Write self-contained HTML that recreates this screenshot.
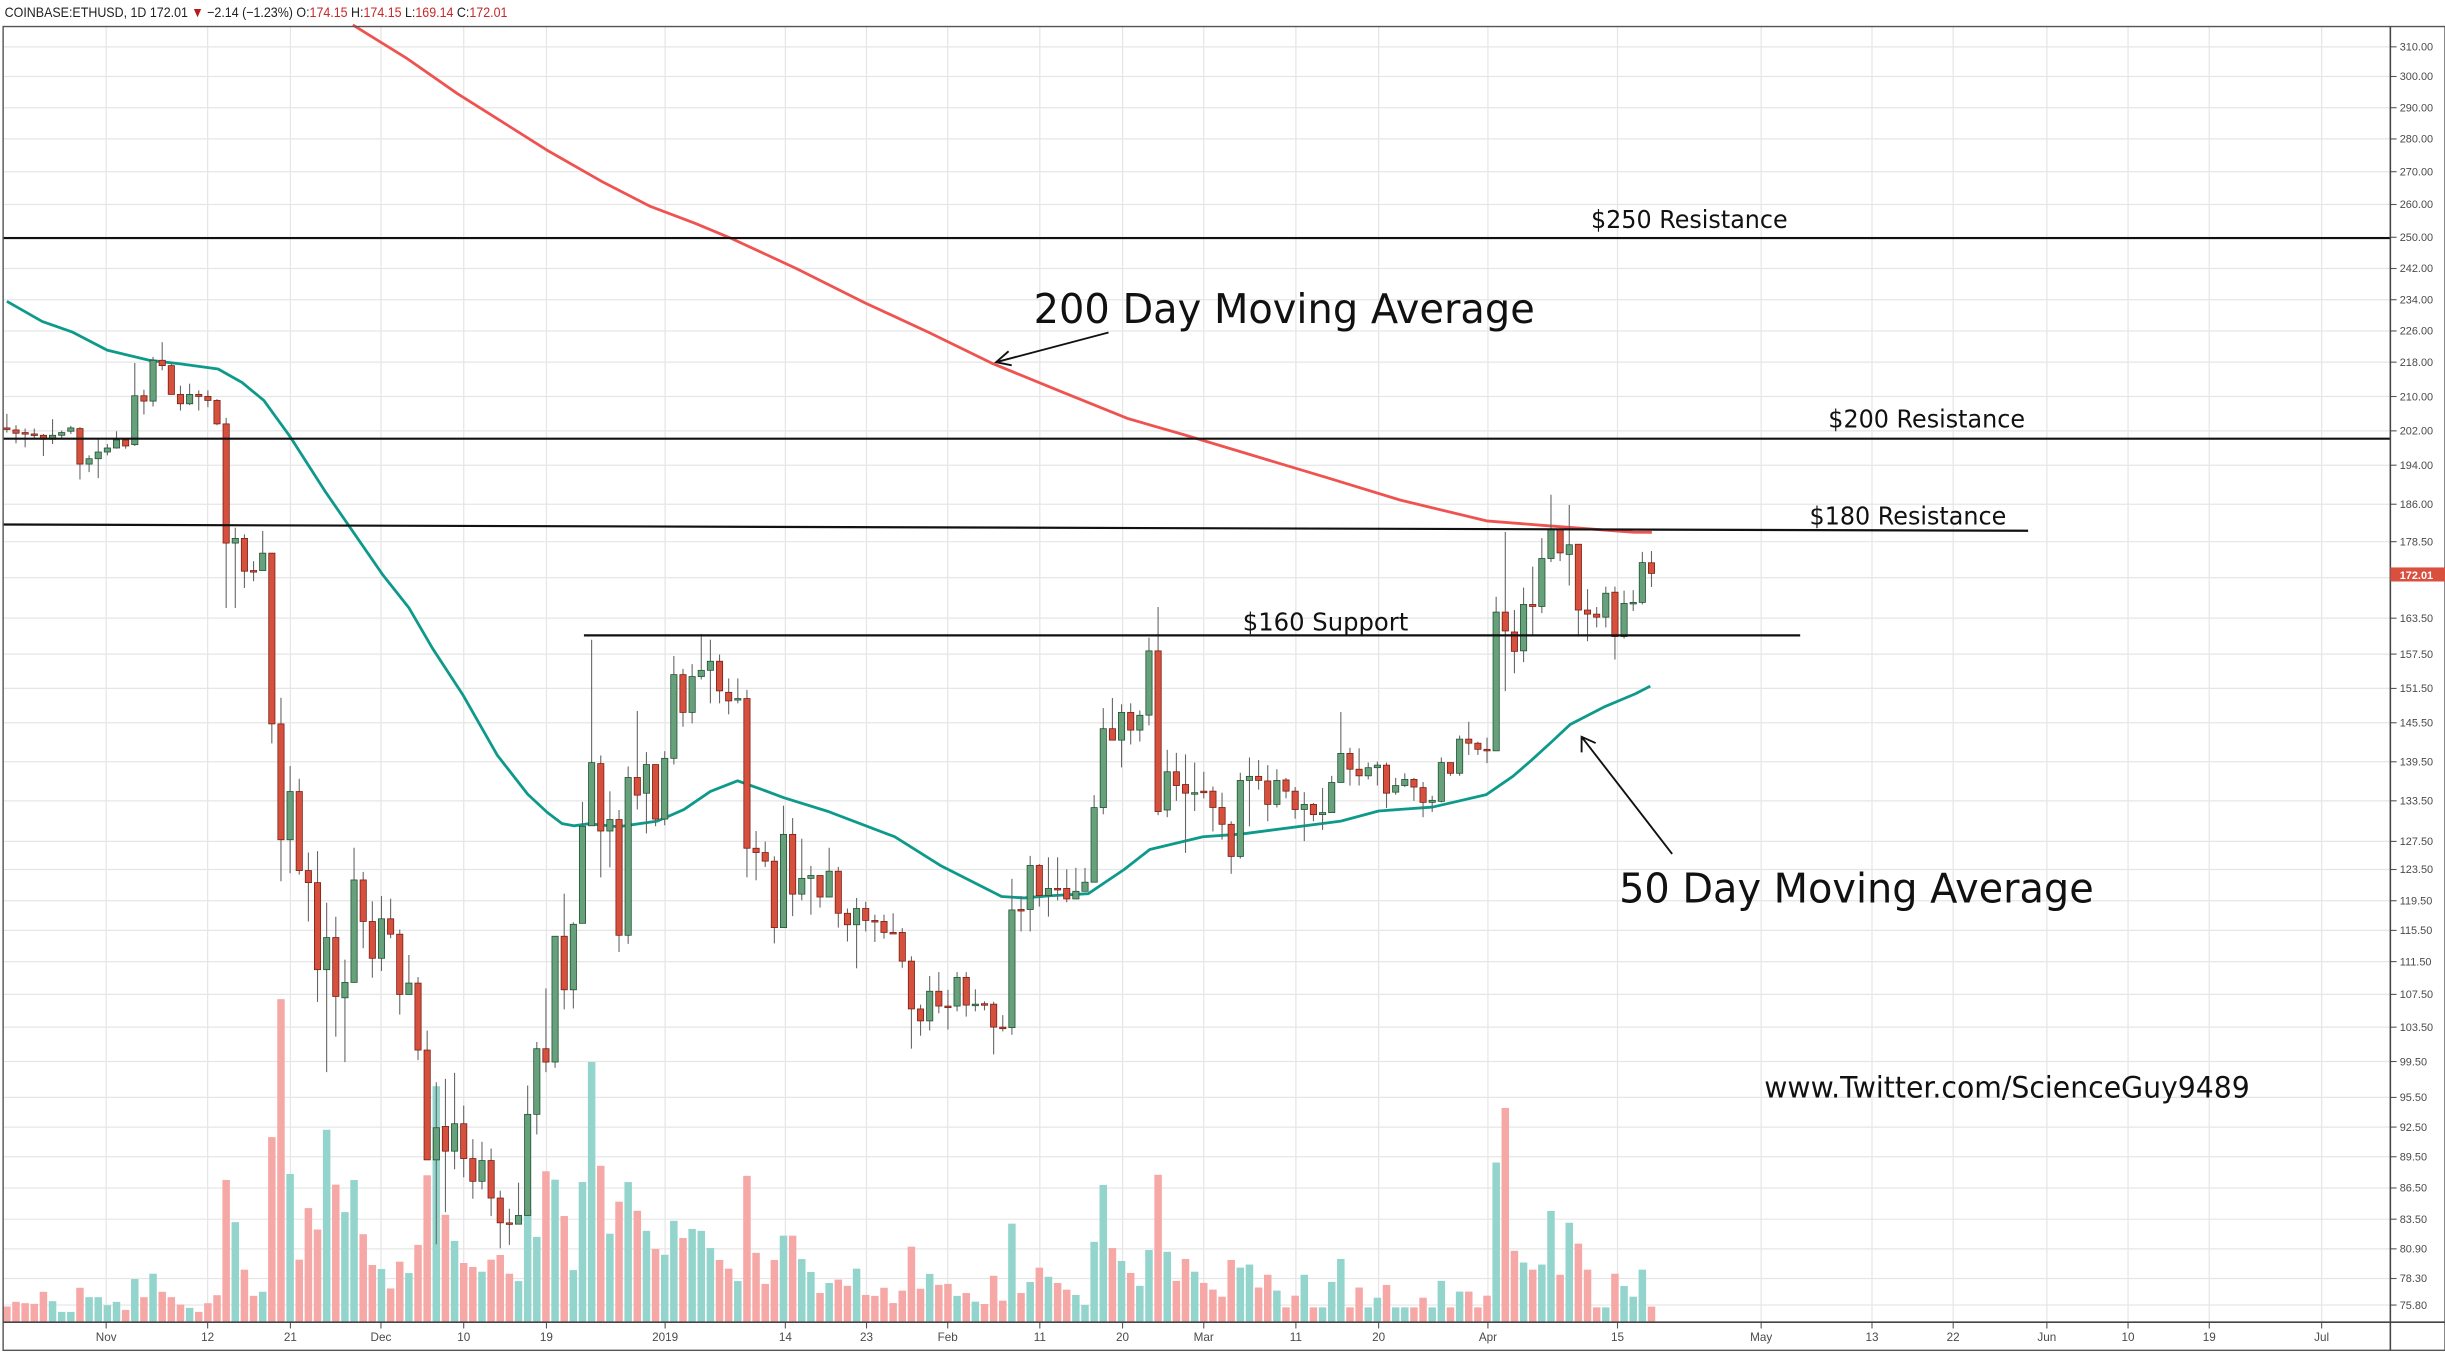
<!DOCTYPE html>
<html><head><meta charset="utf-8"><style>
html,body{margin:0;padding:0;background:#fff;}
svg{display:block;}
</style></head><body>
<svg id="s" xmlns="http://www.w3.org/2000/svg" width="2445" height="1355" viewBox="0 0 1566 868" preserveAspectRatio="none">
<rect x="0" y="0" width="1566" height="868" fill="#fff"/>
<g id="grid"></g>
<g id="vol"></g>
<g id="ma"></g>
<g id="cand"></g>
<g id="lines" stroke="#111" stroke-width="1.4" fill="none">
<line x1="2" y1="152.5" x2="1531" y2="152.5"/>
<line x1="2" y1="281" x2="1531" y2="281"/>
<line x1="2" y1="336" x2="1299" y2="340"/>
<line x1="374" y1="407" x2="1153" y2="407"/>
<line x1="710" y1="213" x2="638" y2="232" stroke-width="1.2"/>
<polyline points="646,225 638,232 648,234" stroke-width="1.2"/>
<line x1="1071" y1="547" x2="1013" y2="472" stroke-width="1.2"/>
<polyline points="1013,482 1013,472 1022,476" stroke-width="1.2"/>
</g>
<g font-family="DejaVu Sans, sans-serif" fill="#111">
<text x="1019" y="146" font-size="16" textLength="126" lengthAdjust="spacingAndGlyphs">$250 Resistance</text>
<text x="1171" y="274" font-size="16" textLength="126" lengthAdjust="spacingAndGlyphs">$200 Resistance</text>
<text x="1159" y="336" font-size="16" textLength="126" lengthAdjust="spacingAndGlyphs">$180 Resistance</text>
<text x="796" y="404" font-size="16" textLength="106" lengthAdjust="spacingAndGlyphs">$160 Support</text>
<text x="662" y="207" font-size="26" textLength="321" lengthAdjust="spacingAndGlyphs">200 Day Moving Average</text>
<text x="1037" y="578" font-size="26" textLength="304" lengthAdjust="spacingAndGlyphs">50 Day Moving Average</text>
<text x="1130" y="703" font-size="19" textLength="311" lengthAdjust="spacingAndGlyphs">www.Twitter.com/ScienceGuy9489</text>
</g>
<g id="axes"></g>
<text x="3" y="11" font-family="Liberation Sans, sans-serif" font-size="9" textLength="322" lengthAdjust="spacingAndGlyphs" fill="#222">COINBASE:ETHUSD, 1D 172.01 <tspan fill="#b71c1c">▼</tspan> −2.14 (−1.23%) O:<tspan fill="#c62828">174.15</tspan> H:<tspan fill="#c62828">174.15</tspan> L:<tspan fill="#c62828">169.14</tspan> C:<tspan fill="#c62828">172.01</tspan></text>
</svg>
<script>
var NS="http://www.w3.org/2000/svg";
function el(p,t,a,txt){var e=document.createElementNS(NS,t);for(var k in a)e.setAttribute(k,a[k]);if(txt!==undefined)e.textContent=txt;p.appendChild(e);return e;}
var G=document.getElementById('grid'),V=document.getElementById('vol'),M=document.getElementById('ma'),C=document.getElementById('cand'),A=document.getElementById('axes');
var prices=[["310.00",30],["300.00",49],["290.00",69],["280.00",89],["270.00",110],["260.00",131],["250.00",152],["242.00",172],["234.00",192],["226.00",212],["218.00",232],["210.00",254],["202.00",276],["194.00",298],["186.00",323],["178.50",347],["",370],["163.50",396],["157.50",419],["151.50",441],["145.50",463],["139.50",488],["133.50",513],["127.50",539],["123.50",557],["119.50",577],["115.50",596],["111.50",616],["107.50",637],["103.50",658],["99.50",680],["95.50",703],["92.50",722],["89.50",741],["86.50",761],["83.50",781],["80.90",800],["78.30",819],["75.80",836]];
var times=[["Nov",68],["12",133],["21",186],["Dec",244],["10",297],["19",350],["2019",426],["14",503],["23",555],["Feb",607],["11",666],["20",719],["Mar",771],["11",830],["20",883],["Apr",953],["15",1036],["May",1128],["13",1199],["22",1251],["Jun",1311],["10",1363],["19",1415],["Jul",1487]];
prices.forEach(function(p){el(G,'line',{x1:2,x2:1531,y1:p[1],y2:p[1],stroke:'#e6e6e6','stroke-width':0.8});
 el(A,'line',{x1:1531,x2:1535,y1:p[1],y2:p[1],stroke:'#555','stroke-width':0.7});
 if(p[0])el(A,'text',{x:1537,y:p[1]+2.4,'font-family':'Liberation Sans, sans-serif','font-size':'7',fill:'#4a4a4a'},p[0]);});
times.forEach(function(t){el(G,'line',{x1:t[1],x2:t[1],y1:17,y2:847,stroke:'#e6e6e6','stroke-width':0.8});
 el(A,'line',{x1:t[1],x2:t[1],y1:847,y2:851,stroke:'#555','stroke-width':0.7});
 el(A,'text',{x:t[1],y:859,'text-anchor':'middle','font-family':'Liberation Sans, sans-serif','font-size':'7.5',fill:'#4a4a4a'},t[0]);});
el(A,'rect',{x:2,y:17,width:1564,height:848,fill:'none',stroke:'#555','stroke-width':0.9});
el(A,'line',{x1:1531,x2:1531,y1:17,y2:865,stroke:'#444','stroke-width':1});
el(A,'line',{x1:2,x2:1566,y1:847,y2:847,stroke:'#444','stroke-width':1});
el(A,'rect',{x:1531,y:363.5,width:35,height:9,fill:'#d9503f'});
el(A,'text',{x:1537,y:370.8,'font-family':'Liberation Sans, sans-serif','font-size':'7','font-weight':'bold',fill:'#fff'},"172.01");

var z4=[[221,223,200,228],[224,229,217,244],[228,230,222,250],[230,232,222,236],[232,238,230,263],[238,232,208,245],[232,228,225,236],[226,221,218,230],[222,275,220,298],[275,267,262,287],[267,257,236,296],[257,251,245,262],[251,239,226,252],[239,248,236,252],[246,173,124,248],[173,181,164,201],[181,120,115,189],[120,128,93,135],[128,171,124,171],[171,185,158,195],[185,171,155,187],[171,174,165,195],[174,180,165,190],[180,215,178,217],[215,393,206,490],[393,386,370,490],[386,435,380,460],[434,434,420,450],[434,408,375,434],[408,663,408,692],[663,836,624,898],[836,764,726,886],[764,882,745,888],[882,900,855,958],[900,1030,853,1078],[1030,982,930,1183],[982,1070,951,1130],[1072,1049,1015,1168],[1049,896,848,1049],[896,958,884,998],[958,1013,928,1042],[1013,954,920,1032],[954,977,924,983],[977,1067,970,1097],[1067,1050,1008,1067],[1050,1150,1041,1165],[1150,1314,1121,1314],[1314,1266,1198,1440],[1264,1301,1193,1392],[1301,1260,1184,1328],[1260,1312,1233,1340],[1312,1346,1283,1372],[1346,1315,1287,1358],[1315,1371,1297,1398],[1371,1408,1360,1446],[1408,1408,1387,1441],[1410,1397,1348,1410],[1397,1246,1203,1397],[1246,1148,1138,1276],[1148,1168,1058,1183]];
var z5=[[1008,745,745,1020],[745,857,656,898],[857,720,716,896],[718,515,464,718],[514,382,125,514],[384,525,367,622],[525,501,442,601],[501,743,481,778],[743,413,390,761],[413,450,274,480],[446,386,360,530],[386,500,386,515],[500,373,358,513],[373,198,159,386],[198,277,186,307],[277,202,176,300],[202,189,113,208],[189,170,125,258],[170,232,156,258],[235,253,206,281],[248,248,206,258],[248,561,230,622],[561,570,525,628],[570,588,547,600],[588,727,578,760],[727,532,472,727],[532,657,498,703],[657,624,541,670],[624,618,598,700],[618,663,618,685],[663,609,560,663],[609,697,600,727],[697,721,687,756],[721,687,665,812],[687,712,673,735],[712,713,700,757],[714,737,700,750],[737,737,697,740],[737,797,728,811],[797,897,787,980],[897,922,888,953],[922,860,828,942],[860,891,820,906],[891,891,857,940],[891,831,820,902],[831,889,820,913],[887,887,856,902],[886,888,881,900],[887,935,882,992],[935,937,910,944],[936,690,625,951],[689,689,661,735],[689,597,577,735],[597,660,594,683],[660,645,580,704],[645,645,580,670],[645,667,605,674],[667,651,602,667],[651,632,602,651],[632,476,450,632],[476,311,268,490],[311,335,247,335],[335,277,260,392],[277,314,258,344],[314,283,273,338]];
var z6=[[422,296,270,442],[296,611,210,618],[608,533,490,622],[533,560,496,590],[558,575,499,692],[574,574,515,610],[571,571,533,585],[571,603,562,650],[603,636,574,666],[636,699,630,733],[699,550,535,703],[550,542,505,640],[542,550,510,568],[551,597,520,630],[597,550,528,603],[549,571,545,585],[571,607,563,625],[607,597,573,669],[597,617,594,630],[617,613,565,647],[613,554,541,613],[554,497,416,554],[497,528,486,560],[528,541,487,560],[541,525,515,548],[525,520,513,560],[520,575,515,604],[573,560,545,578],[560,548,536,563],[548,563,545,590],[564,593,553,622],[593,589,580,612],[591,515,505,593],[515,536,515,541],[536,469,462,541],[469,477,435,500],[477,489,474,500],[489,491,466,516],[492,220,190,492],[220,257,63,375],[259,297,216,340],[296,205,172,318],[205,209,131,265],[209,115,75,222],[115,57,-10,122],[57,104,57,120],[107,88,10,168],[87,216,87,268],[216,224,175,277],[224,230,210,250],[230,183,170,250],[181,268,170,313],[268,203,178,272],[201,201,177,218],[201,123,102,205]];
function f4(v){return 179.3+v/2.331;}function f5(v){return 371.5+v/3.264;}function f6(v){return 320.2+v/3.06;}
var cs=[];
z4.forEach(function(c){cs.push(c.map(f4));});
z5.forEach(function(c){cs.push(c.map(f5));});
z6.forEach(function(c){cs.push(c.map(f6));});
cs.push([360.5,367.3,353,376]);
var v4=[1533,1526,1528,1529,1511,1525,1541,1541,1505,1519,1519,1531,1526,1538,1492,1519,1484,1511,1519,1530,1535,1541,1528,1516,1344,1407,1478,1517,1511,1280,1074,1335,1463,1386,1418,1269,1351,1392,1344,1425,1471,1477,1506,1466,1483,1441,1337,1204,1396,1435,1468,1474,1481,1463,1456,1484,1495,1388,1429,1331];
var v5=[1254,1330,1443,1259,1008,1225,1367,1300,1259,1319,1361,1399,1411,1340,1376,1357,1361,1397,1422,1440,1466,1246,1407,1472,1422,1371,1371,1420,1447,1491,1470,1463,1476,1440,1495,1497,1480,1512,1486,1394,1482,1451,1474,1472,1497,1491,1509,1514,1455,1507,1346,1491,1468,1438,1457,1470,1484,1495,1516,1384,1265,1397,1424,1449,1476,1401];
var v6=[1323,1474,1531,1488,1513,1535,1548,1562,1490,1505,1499,1544,1519,1550,0,1560,1519,0,0,1533,1488,0,1544,0,1564,1539,0,0,0,1564,0,1531,0,1552,1552,0,1560,1299,1192,1472,1495,1509,1499,1394,1519,1417,1458,1509,0,0,1517,1541,1562,1509];
var vy=[];v4.forEach(function(v){vy.push(f4(v));});v5.forEach(function(v){vy.push(f5(v));});v6.forEach(function(v){vy.push(v?f6(v):837.5);});vy.push(837);
var BOT=846.5;
cs.forEach(function(c,i){
 var x=4.4+i*5.852, o=c[0], cl=c[1], hi=Math.min(c[2],o,cl), lo=Math.max(c[3],o,cl);
 var up=cl<o || (cl==o && i%2==0);
 var y=vy[i]; if(y!==undefined){el(V,'rect',{x:x-2.4,y:y,width:4.8,height:Math.max(0.5,BOT-y),fill:up?'#93d4cc':'#f6a8a6'});}
 el(C,'line',{x1:x,x2:x,y1:hi,y2:lo,stroke:'#666','stroke-width':0.7});
 var t=Math.min(o,cl),h=Math.abs(o-cl); if(h<1)h=1;
 el(C,'rect',{x:x-2,y:t,width:4,height:h,fill:up?'#67a17c':'#d6503e',stroke:up?'#1e5132':'#7a1d12','stroke-width':0.5});
});
var ma50=[[4.4,193],[27,205.9],[46.6,212.8],[68.6,224.3],[95.6,230.8],[115,233],[139.7,236.4],[155,245],[169,256.5],[186,280],[208,314.4],[245,368],[262,389.5],[277,415.3],[296.6,445.3],[318.6,483.9],[338,508.8],[350.5,520.4],[360,527.6],[367.6,529],[377,527.7],[396,529.6],[421,526],[438,518.6],[455,507],[472.4,500.2],[489.5,506.3],[502,511],[531,520],[573,536],[602.3,554.4],[641.5,574.3],[656,575.2],[672.5,573.8],[697,572.5],[720,557],[736.4,544.2],[770.5,536],[795,534.3],[858.8,526],[883,519.5],[917.6,517],[952,509],[969,497.3],[981,486.9],[993.6,475.4],[1005.8,464],[1028,452.6],[1047.5,444.4],[1057,439.5]];
var ma200=[[226,16],[260,37],[293,60],[320,77],[350,96],[385,116],[416,132],[445,143],[469,153],[510,172],[554,194],[595,213],[636,233],[680,251],[722,268],[760,279],[800,291],[850,306],[896.7,320.3],[952.2,333.7],[992.8,336.9],[1046,340.9],[1058,341]];
function pl(p){return p.map(function(q){return q[0]+','+q[1];}).join(' ');}
el(M,'polyline',{points:pl(ma200),fill:'none',stroke:'#ef5350','stroke-width':1.8,'stroke-linejoin':'round'});
el(M,'polyline',{points:pl(ma50),fill:'none',stroke:'#0e9a8b','stroke-width':1.8,'stroke-linejoin':'round'});
</script>
</body></html>
